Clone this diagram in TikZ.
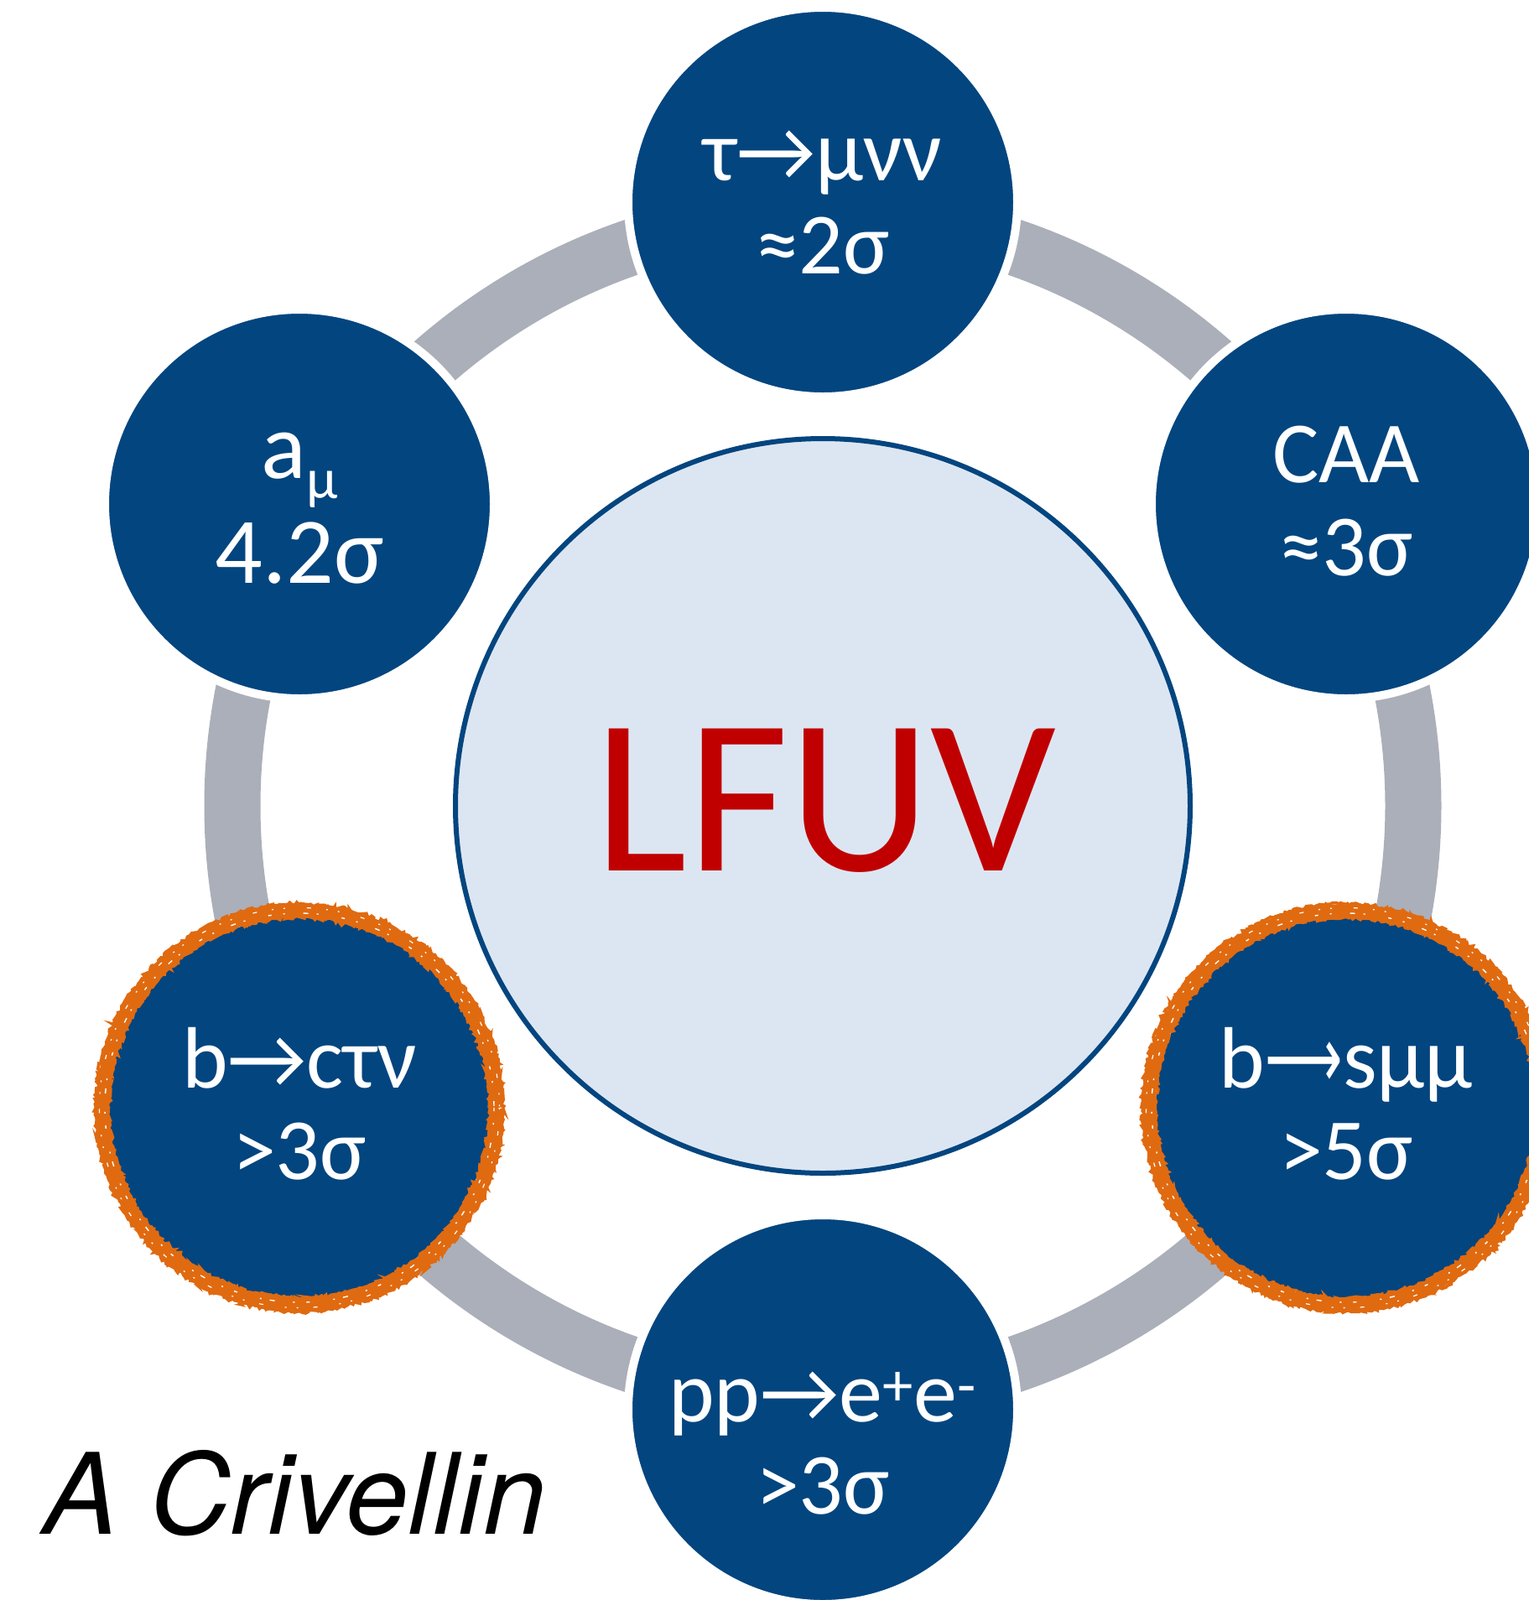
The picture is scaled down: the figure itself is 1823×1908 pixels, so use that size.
\documentclass[tikz,border=0pt]{standalone}
\usepackage{fontspec}
\setmainfont{Carlito}
\newfontfamily\herosfont{TeX Gyre Heros}
\newfontfamily\dvfont{DejaVu Sans}
\usetikzlibrary{decorations.pathmorphing}
\definecolor{nodeblue}{HTML}{03457F}
\definecolor{paleblue}{HTML}{DCE6F2}
\definecolor{ringgray}{HTML}{ABAFB9}
\definecolor{brushorange}{HTML}{E06A10}
\definecolor{lfuvred}{HTML}{C00000}
\begin{document}
\begin{tikzpicture}[x=0.5pt,y=-0.5pt,
  bubble/.style={circle, fill=nodeblue, draw=white, line width=5pt, minimum size=232pt, inner sep=0pt, outer sep=0pt},
  txt/.style={anchor=base, text=white, font=\fontsize{52pt}{58pt}\selectfont, inner sep=0pt},
  bigtxt/.style={txt, font=\fontsize{56pt}{60pt}\selectfont},
  brush/.style={draw=brushorange, decorate, decoration={random steps, segment length=2pt, amplitude=0.9pt}},
  brushedge/.style={draw=brushorange, line width=1.8pt, decorate, decoration={random steps, segment length=1.5pt, amplitude=1.3pt}},
]
\useasboundingbox (0,0) rectangle (1823,1908);
\clip (0,0) rectangle (1823,1908);
\fill[white] (0,0) rectangle (1823,1908);
\coordinate (O) at (981,961);
\draw[ringgray, line width=33.5pt] (O) circle[radius=704];
\node[circle, fill=paleblue, draw=nodeblue, line width=3pt, minimum size=438pt, inner sep=0pt] (core) at (O) {};
\node[anchor=base, text=lfuvred, font=\fontsize{132pt}{132pt}\selectfont, inner sep=0pt] (lfuv) at (984,1038) {LFUV};

\node[bubble] (T) at (981,241) {};
\node[bubble] (UL) at (357,601) {};
\node[bubble] (UR) at (1605,601) {};
\node[bubble] (LL) at (357,1321) {};
\node[bubble] (LR) at (1605,1321) {};
\node[bubble] (B) at (981,1681) {};

\node[txt] (T1) at (981,215) {τ→μνν};
\node[txt] (T2) at (981,326) {≈2σ};
\node[bigtxt] (UL1) at (357,570) {a\raisebox{-12pt}{\fontsize{34pt}{34pt}\selectfont μ}};
\node[bigtxt] (UL2) at (357,695) {4.2σ};
\node[txt] (UR1) at (1605,575) {CAA};
\node[txt] (UR2) at (1605,686) {≈3σ};
\node[txt] (LL1) at (357,1297) {b→cτν};
\node[txt] (LL2) at (357,1406) {>3σ};
\node[txt] (LR1) at (1605,1297) {b\scalebox{0.62}[1]{\dvfont ⟶}sμμ};
\node[txt] (LR2) at (1605,1406) {>5σ};
\node[txt] (B1) at (981,1695) {pp→e\textsuperscript{+}e\textsuperscript{-}};
\node[txt] (B2) at (981,1805) {>3σ};

\foreach \c in {LL,LR} {
  \draw[brush, line width=8.5pt] (\c.center) circle[radius=235];
  \draw[brushedge] (\c.center) circle[radius=242.5];
  \draw[brushedge] (\c.center) circle[radius=227.5];
  \draw[white, line width=0.7pt, dash pattern=on 2pt off 7pt on 1pt off 11pt on 3pt off 5pt on 1pt off 14pt] (\c.center) circle[radius=232];
  \draw[white, line width=0.6pt, dash pattern=on 1pt off 13pt on 2.5pt off 9pt on 1pt off 6pt] (\c.center) circle[radius=238.5];
}

\node[anchor=base west, font=\herosfont\itshape\fontsize{67pt}{67pt}\selectfont, inner sep=0pt] (author) at (51,1829) {A Crivellin};
\end{tikzpicture}
\end{document}
